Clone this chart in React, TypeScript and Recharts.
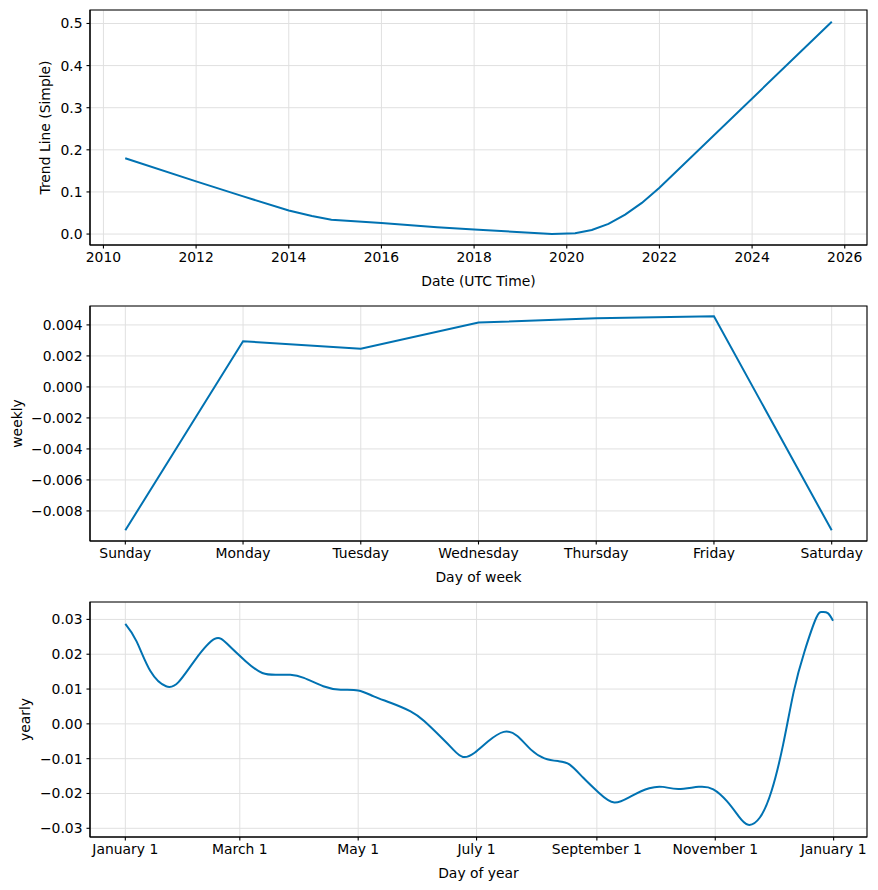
import React from 'react';
import { LineChart, Line, XAxis, YAxis, CartesianGrid, Label, ReferenceArea } from 'recharts';

const trendYears = [2010.47, 2012, 2013, 2014, 2014.5, 2014.92, 2016, 2017.2, 2018, 2019.68, 2020.18, 2020.54, 2020.9, 2021.26, 2021.62, 2022, 2025.72];
const trendValues = [0.18, 0.125, 0.09, 0.056, 0.043, 0.034, 0.026, 0.016, 0.011, 0.0, 0.002, 0.0095, 0.024, 0.046, 0.074, 0.11, 0.504];
const yearTicks = [2010, 2012, 2014, 2016, 2018, 2020, 2022, 2024, 2026];
const trendTicks = [0, 0.1, 0.2, 0.3, 0.4, 0.5];

const weekDays = ['Sunday', 'Monday', 'Tuesday', 'Wednesday', 'Thursday', 'Friday', 'Saturday'];
const weeklyValues = [-0.00925, 0.00295, 0.00247, 0.00415, 0.00443, 0.00456, -0.00925];
const weeklyTicks = [-0.008, -0.006, -0.004, -0.002, 0, 0.002, 0.004];

const yearlyDays = [0, 5.8, 13, 21, 27.4, 36, 46, 53, 62, 70.6, 79, 85, 92, 102, 111, 120, 128, 137, 147, 154, 163, 169, 174, 180, 187, 195, 202, 209, 216, 223, 229, 236, 244, 252, 261, 270, 277, 285, 295.5, 303, 310, 316, 321, 327, 333, 339, 344.5, 350, 356, 359, 362, 364.7];
const yearlyValues = [0.0287, 0.0237, 0.0151, 0.0108, 0.012, 0.0184, 0.0244, 0.0227, 0.018, 0.0146, 0.0141, 0.0141, 0.0132, 0.0108, 0.0098, 0.0096, 0.0079, 0.006, 0.0036, 0.0008, -0.004, -0.0074, -0.0095, -0.0083, -0.005, -0.0023, -0.0035, -0.0074, -0.0099, -0.0107, -0.0117, -0.0155, -0.0198, -0.0226, -0.0207, -0.0185, -0.0181, -0.0187, -0.0181, -0.0188, -0.0222, -0.0265, -0.029, -0.0269, -0.0193, -0.0059, 0.0094, 0.0208, 0.0304, 0.0321, 0.0318, 0.0296];
const monthTickDays = [0, 59, 120, 181, 243, 304, 365];
const monthTickLabels = ['January 1', 'March 1', 'May 1', 'July 1', 'September 1', 'November 1', 'January 1'];
const yearlyTicks = [-0.03, -0.02, -0.01, 0, 0.01, 0.02, 0.03];

const FONT = 'DejaVu Sans, sans-serif';
const LINE = '#0072B2';
const fmtMinus = (s: string) => s.replace('-', '\u2212');

type PanelProps = {
  data: { x: number; y: number }[];
  xDomain: [number, number];
  xTicks: number[];
  xFormat: (v: number) => string;
  xLabel: string;
  yDomain: [number, number];
  yTicks: number[];
  yFormat: (v: number) => string;
  yLabel: string;
  yLabelX: number;
  curve: 'linear' | 'natural';
};

const Panel: React.FC<PanelProps> = (p) => {
  const tickStyle = { fill: '#000', fontSize: 13.9, fontFamily: FONT };
  return (
    <LineChart width={878} height={296} data={p.data} margin={{ top: 10, right: 11, left: 0, bottom: 0 }}>
      <CartesianGrid xAxisId="main" yAxisId="main" stroke="#e0e0e0" strokeWidth={1} />
      <XAxis
        xAxisId="main"
        dataKey="x"
        type="number"
        domain={p.xDomain}
        ticks={p.xTicks}
        allowDataOverflow
        interval={0}
        tickFormatter={p.xFormat}
        height={51}
        tick={tickStyle}
        tickSize={3.5}
        tickMargin={4}
        axisLine={{ stroke: '#000', strokeWidth: 1.1 }}
        tickLine={{ stroke: '#000', strokeWidth: 1.1 }}
      >
        <Label
          content={({ viewBox }: any) => (
            <text x={viewBox.x + viewBox.width / 2} y={viewBox.y + 41} textAnchor="middle" fontSize={13.9} fontFamily={FONT} fill="#000">
              {p.xLabel}
            </text>
          )}
        />
      </XAxis>
      <YAxis
        yAxisId="main"
        type="number"
        domain={p.yDomain}
        ticks={p.yTicks}
        allowDataOverflow
        interval={0}
        tickFormatter={p.yFormat}
        width={90}
        tick={tickStyle}
        tickSize={3.5}
        tickMargin={4}
        axisLine={{ stroke: '#000', strokeWidth: 1.1 }}
        tickLine={{ stroke: '#000', strokeWidth: 1.1 }}
      >
        <Label
          content={({ viewBox }: any) => {
            const cy = viewBox.y + viewBox.height / 2;
            return (
              <text x={p.yLabelX} y={cy} transform={`rotate(-90, ${p.yLabelX}, ${cy})`} textAnchor="middle" dominantBaseline="central" fontSize={13.9} fontFamily={FONT} fill="#000">
                {p.yLabel}
              </text>
            );
          }}
        />
      </YAxis>
      <Line xAxisId="main" yAxisId="main" type={p.curve} dataKey="y" stroke={LINE} strokeWidth={2} dot={false} isAnimationActive={false} />
      <ReferenceArea
        xAxisId="main"
        yAxisId="main"
        x1={p.xDomain[0]}
        x2={p.xDomain[1]}
        y1={p.yDomain[0]}
        y2={p.yDomain[1]}
        fill="none"
        fillOpacity={0}
        stroke="#000"
        strokeWidth={1.1}
        ifOverflow="visible"
      />
    </LineChart>
  );
};

const App: React.FC = () => {
  const trendData = trendYears.map((x, i) => ({ x, y: trendValues[i] }));
  const weeklyData = weekDays.map((_, i) => ({ x: i, y: weeklyValues[i] }));
  const yearlyData = yearlyDays.map((x, i) => ({ x, y: yearlyValues[i] }));
  return (
    <div style={{ position: 'absolute', left: 0, top: 0, width: 878, height: 890, background: '#fff' }}>
      <Panel
        data={trendData}
        xDomain={[2009.71, 2026.48]}
        xTicks={yearTicks}
        xFormat={(v) => String(v)}
        xLabel="Date (UTC Time)"
        yDomain={[-0.026, 0.532]}
        yTicks={trendTicks}
        yFormat={(v) => v.toFixed(1)}
        yLabel="Trend Line (Simple)"
        yLabelX={45}
        curve="linear"
      />
      <Panel
        data={weeklyData}
        xDomain={[-0.3, 6.3]}
        xTicks={[0, 1, 2, 3, 4, 5, 6]}
        xFormat={(v) => weekDays[v] ?? ''}
        xLabel="Day of week"
        yDomain={[-0.00994, 0.00522]}
        yTicks={weeklyTicks}
        yFormat={(v) => fmtMinus(v.toFixed(3))}
        yLabel="weekly"
        yLabelX={17}
        curve="linear"
      />
      <Panel
        data={yearlyData}
        xDomain={[-18.2, 382.2]}
        xTicks={monthTickDays}
        xFormat={(v) => monthTickLabels[monthTickDays.indexOf(v)] ?? ''}
        xLabel="Day of year"
        yDomain={[-0.0325, 0.035]}
        yTicks={yearlyTicks}
        yFormat={(v) => fmtMinus(v.toFixed(2))}
        yLabel="yearly"
        yLabelX={25}
        curve="natural"
      />
    </div>
  );
};

export default App;
